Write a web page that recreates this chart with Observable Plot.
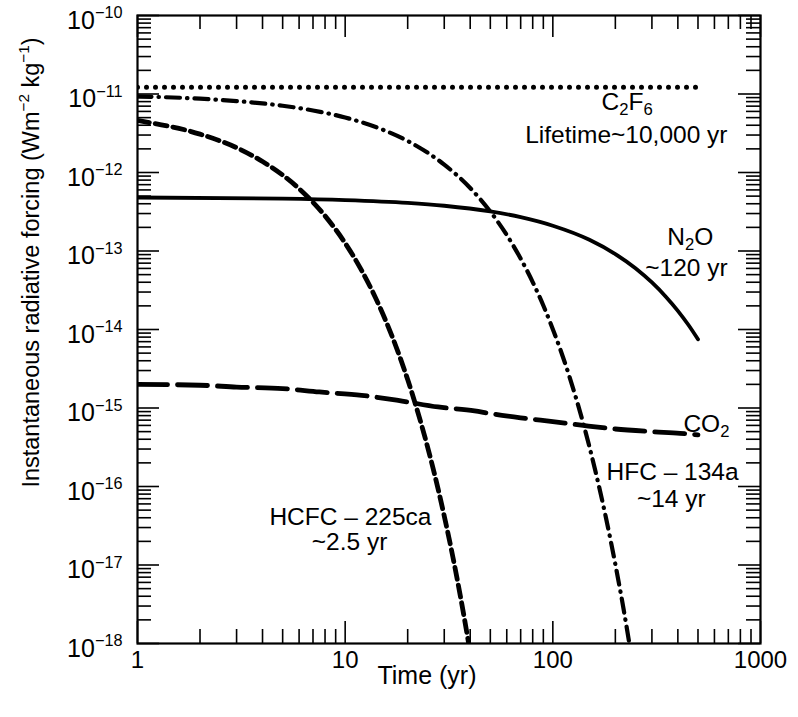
<!DOCTYPE html>
<html><head><meta charset="utf-8">
<script src="https://cdn.jsdelivr.net/npm/d3@7"></script>
<script src="https://cdn.jsdelivr.net/npm/@observablehq/plot@0.6"></script>
<style>
body{margin:0;background:#fff}
svg{font-family:"Liberation Sans",Arial,Helvetica,sans-serif}
</style>
</head><body><div id="chart"></div>
<script>
// ---- data ----
const c2f6Years   = [1, 500];
const c2f6Forcing = [1.22e-11, 1.22e-11];

const hfcYears   = [1,2,3,5,7,10,15,20,25,30,40,50,60,70,80,90,100,120,140,160,180,200,220,235];
const hfcForcing = [9.33e-12,8.71e-12,8.13e-12,7.08e-12,6.17e-12,5.02e-12,3.55e-12,2.52e-12,1.78e-12,1.26e-12,6.34e-13,3.18e-13,1.60e-13,8.0e-14,4.02e-14,2.02e-14,1.01e-14,2.55e-15,6.41e-16,1.61e-16,4.06e-17,1.02e-17,2.58e-18,9.05e-19];

const hcfcYears   = [1,2,3,4,5,6,7,8,10,12,14,16,18,20,22,25,28,30,33,36,40];
const hcfcForcing = [4.60e-12,3.08e-12,2.07e-12,1.38e-12,9.28e-13,6.22e-13,4.17e-13,2.80e-13,1.26e-13,5.65e-14,2.54e-14,1.14e-14,5.12e-15,2.30e-15,1.03e-15,3.11e-16,9.38e-17,4.21e-17,1.27e-17,3.82e-18,7.7e-19];

const n2oYears   = [1,5,10,20,30,50,70,100,150,200,250,300,350,400,450,500];
const n2oForcing = [4.80e-13,4.64e-13,4.45e-13,4.10e-13,3.77e-13,3.19e-13,2.70e-13,2.10e-13,1.39e-13,9.14e-14,6.03e-14,3.97e-14,2.62e-14,1.73e-14,1.14e-14,7.50e-15];

const co2Years   = [1,2,3,5,7.5,12,18,28,42,50,70,100,140,200,300,410,500];
const co2Forcing = [2.0e-15,1.95e-15,1.85e-15,1.77e-15,1.6e-15,1.45e-15,1.25e-15,1.03e-15,9.2e-16,8.5e-16,7.5e-16,6.7e-16,6.0e-16,5.4e-16,5.0e-16,4.76e-16,4.55e-16];

const annLabels  = ["C_{2}F_{6}", "Lifetime~10,000 yr", "N_{2}O", "~120 yr", "CO_{2}", "HFC – 134a", "~14 yr", "HCFC – 225ca", "~2.5 yr"];
const annYears   = [228, 226, 459, 440, 549, 377, 372, 10.6, 10.5];
const annForcing = [7.9e-12, 3.0e-12, 1.52e-13, 6.0e-14, 6.29e-16, 1.54e-16, 6.8e-17, 4.11e-17, 1.95e-17];

const xTickValues = [1, 10, 100, 1000];
const xTickLabels = ["1", "10", "100", "1000"];
const yTickValues = [1e-18,1e-17,1e-16,1e-15,1e-14,1e-13,1e-12,1e-11,1e-10];
const yTickLabels = ["10^{−18}","10^{−17}","10^{−16}","10^{−15}","10^{−14}","10^{−13}","10^{−12}","10^{−11}","10^{−10}"];
const xLabel = "Time (yr)";
const yLabel = "Instantaneous radiative forcing (Wm^{−2} kg^{−1})";

// ---- helpers ----
const series = (xs, ys) => xs.map((x, i) => ({x, y: ys[i]}));
const xMinor = [], yMinor = [];
for (let e = 0; e < 3; e++) for (let k = 2; k <= 9; k++) xMinor.push(k * 10 ** e);
for (let e = -18; e < -10; e++) for (let k = 2; k <= 9; k++) yMinor.push(+(k + "e" + e));
const ann = annLabels.map((t, i) => ({t, x: annYears[i], y: annForcing[i]}));

const W = 798, H = 717, mL = 137, mR = 38, mT = 15, mB = 74;
const fw = W - mL - mR, fh = H - mT - mB;
const majL = 22, minL = 14;

const plot = Plot.plot({
  width: W, height: H,
  marginLeft: mL, marginRight: mR, marginTop: mT, marginBottom: mB,
  x: {type: "log", domain: [1, 1000], axis: null},
  y: {type: "log", domain: [1e-18, 1e-10], axis: null},
  style: {background: "white", color: "black", fontSize: "24px"},
  marks: [
    // inward ticks on all four sides
    Plot.tickX(xTickValues, {x: d => d, insetTop: fh - majL, strokeWidth: 1.6}),
    Plot.tickX(xMinor, {x: d => d, insetTop: fh - minL, strokeWidth: 1.6}),
    Plot.tickX(xTickValues, {x: d => d, insetBottom: fh - majL, strokeWidth: 1.6}),
    Plot.tickX(xMinor, {x: d => d, insetBottom: fh - minL, strokeWidth: 1.6}),
    Plot.tickY(yTickValues, {y: d => d, insetRight: fw - majL, strokeWidth: 1.6}),
    Plot.tickY(yMinor, {y: d => d, insetRight: fw - minL, strokeWidth: 1.6}),
    Plot.tickY(yTickValues, {y: d => d, insetLeft: fw - majL, strokeWidth: 1.6}),
    Plot.tickY(yMinor, {y: d => d, insetLeft: fw - minL, strokeWidth: 1.6}),
    Plot.frame({stroke: "black", strokeWidth: 2.2}),
    Plot.axisX(xTickValues, {anchor: "bottom", tickSize: 0, tickPadding: 7, fontSize: 24,
      tickFormat: d => xTickLabels[xTickValues.indexOf(d)], label: null}),
    Plot.axisY(yTickValues, {anchor: "left", tickSize: 0, tickPadding: 15, fontSize: 25, dy: 5,
      tickFormat: d => yTickLabels[yTickValues.indexOf(d)], label: null}),
    // series
    Plot.line(series(c2f6Years, c2f6Forcing), {x: "x", y: "y", stroke: "black", strokeWidth: 5,
      strokeDasharray: "0,9", strokeLinecap: "round", clip: true}),
    Plot.line(series(hfcYears, hfcForcing), {x: "x", y: "y", stroke: "black", strokeWidth: 4.2,
      strokeDasharray: "14,7,0.5,7", strokeLinecap: "round", curve: "monotone-x", clip: true}),
    Plot.line(series(hcfcYears, hcfcForcing), {x: "x", y: "y", stroke: "black", strokeWidth: 4.8,
      strokeDasharray: "12,6", curve: "monotone-x", clip: true}),
    Plot.line(series(n2oYears, n2oForcing), {x: "x", y: "y", stroke: "black", strokeWidth: 3.8,
      curve: "monotone-x", clip: true}),
    Plot.line(series(co2Years, co2Forcing), {x: "x", y: "y", stroke: "black", strokeWidth: 4.8,
      strokeDasharray: "30,10", curve: "monotone-x", clip: true}),
    // annotations
    Plot.text(ann, {x: "x", y: "y", text: "t", fontSize: 24.5, textAnchor: "middle", lineAnchor: "middle", fill: "black"}),
    // axis titles
    Plot.text([xLabel], {text: d => d, frameAnchor: "bottom", lineAnchor: "top", dy: 23, dx: -22, fontSize: 25, fill: "black"}),
    Plot.text([yLabel], {text: d => d, frameAnchor: "left", rotate: -90, dx: -106, dy: -67, fontSize: 23.5,
      textAnchor: "middle", lineAnchor: "middle", fill: "black"})
  ]
});
document.getElementById("chart").appendChild(plot);

// rich text: ^{...} superscripts and _{...} subscripts
const NS = "http://www.w3.org/2000/svg";
d3.select(plot).selectAll("text").each(function() {
  const s = this.textContent;
  if (!/[\^_]\{/.test(s)) return;
  const fs = parseFloat(getComputedStyle(this).fontSize) || 22;
  this.textContent = "";
  const re = /([\^_])\{([^}]*)\}|([^\^_]+)/g;
  let m, shift = 0;
  while ((m = re.exec(s))) {
    const t = document.createElementNS(NS, "tspan");
    if (m[3] !== undefined) {
      t.textContent = m[3];
      if (shift) t.setAttribute("dy", (-shift) + "px");
      shift = 0;
    } else {
      const up = m[1] === "^";
      const sft = up ? -0.42 * fs : 0.22 * fs;
      t.textContent = m[2];
      t.setAttribute("font-size", (up ? 0.65 : 0.68) * fs + "px");
      t.setAttribute("dy", (sft - shift) + "px");
      shift = sft;
    }
    this.appendChild(t);
  }
});
</script>
</body></html>
